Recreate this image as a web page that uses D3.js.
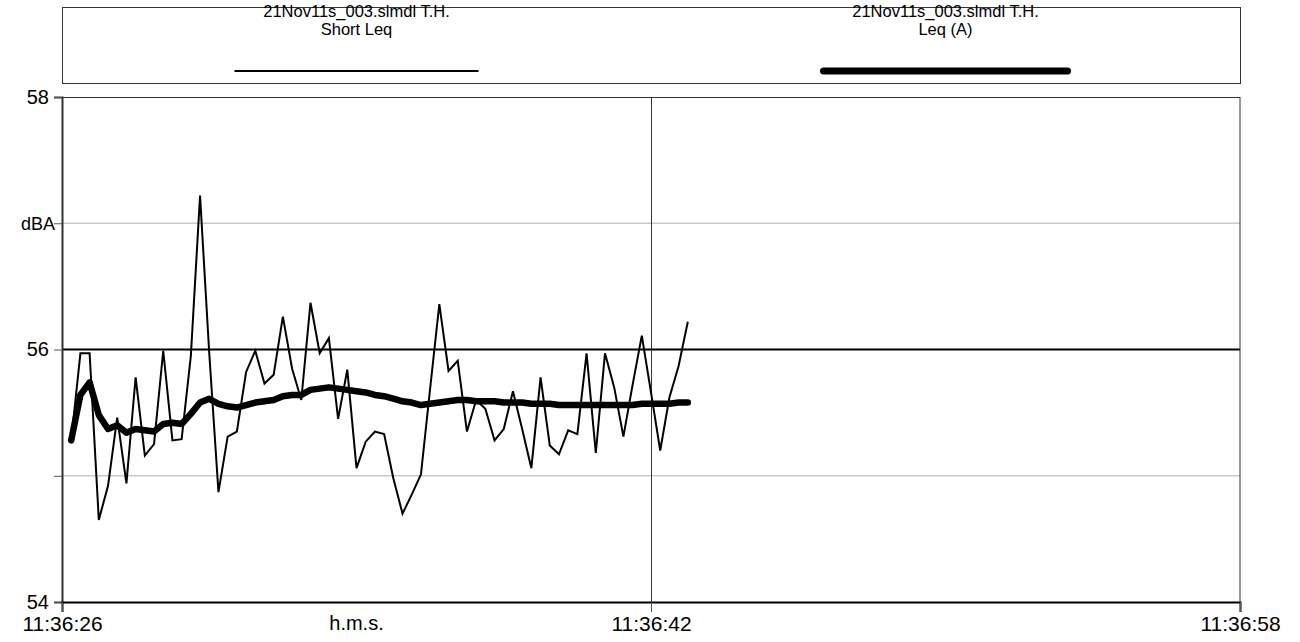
<!DOCTYPE html>
<html>
<head>
<meta charset="utf-8">
<script src="https://cdn.jsdelivr.net/npm/d3@7"></script>
<style>
  html, body { margin: 0; padding: 0; background: #fff; }
  svg { display: block; font-family: "Liberation Sans", Arial, sans-serif; }
</style>
</head>
<body>
<svg id="chart" width="1300" height="642"></svg>
<script>
// Sample period of the logger (seconds) and start offset of the first sample
const samplePeriod = 0.25;
const firstSample = 0.25;

// Short Leq, dBA, one value per 0.25 s
const shortLeq = [
  55.28, 55.97, 55.97, 54.65, 54.92, 55.46, 54.94, 55.78, 55.16, 55.25,
  55.99, 55.28, 55.29, 55.95, 57.22, 55.97, 54.87, 55.31, 55.35, 55.82,
  55.99, 55.73, 55.80, 56.26, 55.85, 55.60, 56.37, 55.97, 56.09, 55.45,
  55.84, 55.06, 55.27, 55.35, 55.33, 54.98, 54.70, 54.85, 55.01, 55.69,
  56.36, 55.83, 55.91, 55.35, 55.60, 55.53, 55.28, 55.37, 55.67, 55.37,
  55.06, 55.78, 55.24, 55.17, 55.36, 55.33, 55.97, 55.18, 55.97, 55.70,
  55.31, 55.72, 56.11, 55.66, 55.20, 55.62, 55.87, 56.22
];

// Running Leq (A), dBA, same time base
const leqA = [
  55.28, 55.64, 55.74, 55.48, 55.37, 55.40, 55.34, 55.37, 55.36, 55.35,
  55.41, 55.42, 55.41, 55.49, 55.58, 55.61, 55.57, 55.55, 55.54, 55.56,
  55.58, 55.59, 55.60, 55.63, 55.64, 55.64, 55.68, 55.69, 55.70, 55.69,
  55.68, 55.67, 55.66, 55.64, 55.63, 55.61, 55.59, 55.58, 55.56, 55.57,
  55.58, 55.59, 55.60, 55.60, 55.59, 55.59, 55.59, 55.58, 55.58, 55.58,
  55.57, 55.57, 55.57, 55.56, 55.56, 55.56, 55.56, 55.56, 55.56, 55.56,
  55.56, 55.56, 55.57, 55.57, 55.57, 55.57, 55.58, 55.58
];

// Axis ticks
const timeTickSeconds = [0, 16, 32];
const timeTickLabels = ["11:36:26", "11:36:42", "11:36:58"];
const levelTicks = [54, 55, 56, 57, 58];
const levelTickLabels = ["54", "", "56", "dBA", "58"];
const timeUnitLabel = "h.m.s.";

// Legend entries
const seriesFile = "21Nov11s_003.slmdl T.H.";
const seriesNames = ["Short Leq", "Leq (A)"];

const axisFont = 21;
const legendFont = 16.5;
const svg = d3.select("#chart");
const plotLeft = 62, plotRight = 1240, plotTop = 97, plotBottom = 602;

const x = d3.scaleLinear().domain([0, 32]).range([plotLeft, plotRight]);
const y = d3.scaleLinear().domain([54, 58]).range([plotBottom, plotTop]);

// ---- legend box ----
const legTop = 7, legBottom = 83;
svg.append("rect")
  .attr("x", plotLeft + 0.5).attr("y", legTop + 0.5)
  .attr("width", plotRight - plotLeft).attr("height", legBottom - legTop)
  .attr("fill", "none").attr("stroke", "#333").attr("stroke-width", 1);

const legendCols = d3.scaleBand().domain(seriesNames).range([plotLeft, plotRight]);
const legendWidths = [2, 7];
seriesNames.forEach((name, i) => {
  const cx = legendCols(name) + legendCols.bandwidth() / 2;
  const g = svg.append("g");
  g.append("text").attr("x", cx).attr("y", 17).attr("text-anchor", "middle")
    .attr("font-size", legendFont).text(seriesFile);
  g.append("text").attr("x", cx).attr("y", 35).attr("text-anchor", "middle")
    .attr("font-size", legendFont).text(name);
  g.append("line")
    .attr("x1", cx - 122).attr("x2", cx + 122)
    .attr("y1", 71).attr("y2", 71)
    .attr("stroke", "#000").attr("stroke-width", legendWidths[i])
    .attr("stroke-linecap", i === 1 ? "round" : "butt");
});

// ---- grid ----
const grid = svg.append("g");
grid.selectAll("line.h")
  .data(levelTicks.filter(v => v === 55 || v === 57))
  .join("line")
  .attr("x1", plotLeft).attr("x2", plotRight)
  .attr("y1", d => y(d)).attr("y2", d => y(d))
  .attr("stroke", "#c8c8c8").attr("stroke-width", 1.5);
grid.append("line")
  .attr("x1", plotLeft).attr("x2", plotRight)
  .attr("y1", y(56)).attr("y2", y(56))
  .attr("stroke", "#000").attr("stroke-width", 2);
grid.append("line")
  .attr("x1", x(16) + 0.5).attr("x2", x(16) + 0.5)
  .attr("y1", plotTop).attr("y2", plotBottom)
  .attr("stroke", "#333").attr("stroke-width", 1);

// plot frame
svg.append("rect")
  .attr("x", plotLeft + 0.5).attr("y", plotTop + 0.5)
  .attr("width", plotRight - plotLeft - 0.5).attr("height", plotBottom - plotTop)
  .attr("fill", "none").attr("stroke", "#333").attr("stroke-width", 1);

// ---- axes ----
const yAxis = d3.axisLeft(y).tickValues(levelTicks).tickSize(8).tickPadding(5)
  .tickFormat((d, i) => levelTickLabels[i]);
const gy = svg.append("g").attr("transform", `translate(${plotLeft},0)`).call(yAxis);
gy.select(".domain").attr("stroke", "#333").attr("stroke-width", 2);
gy.selectAll(".tick line").attr("stroke", "#555");
gy.selectAll(".tick text").attr("font-size", 20).attr("fill", "#000")
  .attr("font-family", "Liberation Sans, Arial, sans-serif");
gy.selectAll(".tick text").filter(d => d === 57)
  .attr("x", -7).attr("font-size", 18);

const xAxis = d3.axisBottom(x).tickValues(timeTickSeconds).tickSize(10).tickPadding(4)
  .tickFormat((d, i) => timeTickLabels[i]);
const gx = svg.append("g").attr("transform", `translate(0,${plotBottom})`).call(xAxis);
gx.select(".domain").attr("stroke", "#000").attr("stroke-width", 2);
gx.selectAll(".tick line").attr("stroke", "#555");
gx.selectAll(".tick text").attr("font-size", axisFont).attr("fill", "#000")
  .attr("font-family", "Liberation Sans, Arial, sans-serif");

// unit label sits on the same line as the time tick labels
svg.append("text")
  .attr("x", x(8)).attr("y", plotBottom + 14)
  .attr("dy", "0.71em")
  .attr("text-anchor", "middle").attr("font-size", 20)
  .text(timeUnitLabel);

// ---- series ----
const tOf = i => firstSample + i * samplePeriod;
const line = d3.line().x((d, i) => x(tOf(i))).y(d => y(d));

svg.append("path").datum(shortLeq)
  .attr("d", line).attr("fill", "none")
  .attr("stroke", "#000").attr("stroke-width", 2).attr("stroke-linejoin", "miter");

svg.append("path").datum(leqA)
  .attr("d", line).attr("fill", "none")
  .attr("stroke", "#000").attr("stroke-width", 6.5)
  .attr("stroke-linejoin", "round").attr("stroke-linecap", "round");
</script>
</body>
</html>
